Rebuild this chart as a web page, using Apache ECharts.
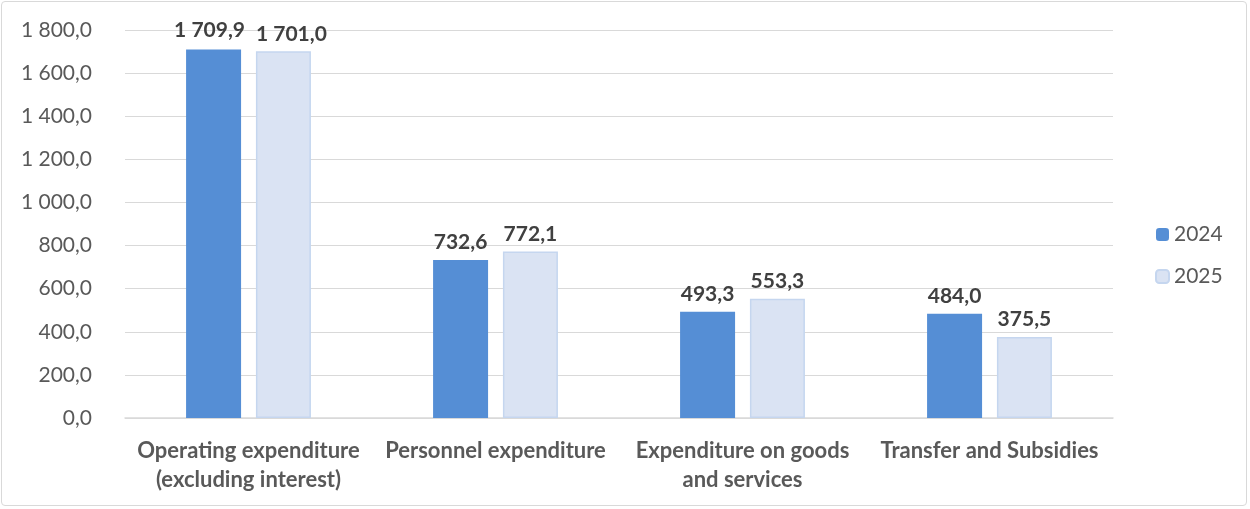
<!DOCTYPE html>
<html>
<head>
<meta charset="utf-8">
<script src="https://cdn.jsdelivr.net/npm/echarts@6/dist/echarts.min.js"></script>
<style>
  html, body { margin: 0; padding: 0; background: #fff; }
  #frame { position: absolute; left: 1px; top: 1px; width: 1246px; height: 505px;
           border: 1px solid #d9d9d9; border-radius: 4px; box-sizing: border-box; }
  #chart { width: 1250px; height: 509px; }
</style>
</head>
<body>
<div id="frame"></div>
<div id="chart"></div>
<script>
// Expenditure by category, 2024 vs 2025
const categories = [
  'Operating expenditure\n(excluding interest)',
  'Personnel expenditure',
  'Expenditure on goods\nand services',
  'Transfer and Subsidies'
];
const values2024 = [1709.9, 732.6, 493.3, 484.0];
const values2025 = [1701.0, 772.1, 553.3, 375.5];
const seriesNames = ['2024', '2025'];

// "1 709,9" style: space thousands separator, comma decimal
function fmt(v) {
  const parts = v.toFixed(1).split('.');
  const intPart = parts[0].replace(/\B(?=(\d{3})+(?!\d))/g, ' ');
  return intPart + ',' + parts[1];
}

const FONT = 'Lato, "Open Sans", sans-serif';
const chart = echarts.init(document.getElementById('chart'), null, { renderer: 'canvas' });

const labelStyle = {
  show: true,
  position: 'top',
  distance: 7,
  fontFamily: FONT,
  fontSize: 21,
  fontWeight: 'bold',
  color: '#404040',
  formatter: p => fmt(p.value)
};

// the two tall labels sit side by side; nudge them apart so they do not collide
const data2024 = values2024.map((v, i) =>
  i === 0 ? { value: v, label: { offset: [-4, -2] } } : v);
const data2025 = values2025.map((v, i) =>
  i === 0 ? { value: v, label: { offset: [8, 0] } } : v);

chart.setOption({
  animation: false,
  grid: { left: 125, right: 137, top: 30, bottom: 91, containLabel: false },
  legend: {
    orient: 'vertical',
    left: 1150,
    top: 219,
    itemWidth: 13,
    itemHeight: 13,
    itemGap: 21,
    textStyle: { fontFamily: FONT, fontSize: 21, color: '#595959' },
    data: seriesNames
  },
  xAxis: {
    type: 'category',
    data: categories,
    axisLine: { lineStyle: { color: '#d9d9d9', width: 1.5 } },
    axisTick: { show: false },
    axisLabel: {
      fontFamily: FONT, fontSize: 22, fontWeight: 'bold', color: '#595959',
      margin: 18, lineHeight: 29, interval: 0
    }
  },
  yAxis: {
    type: 'value',
    min: 0, max: 1800, interval: 200,
    axisLine: { show: false },
    axisTick: { show: false },
    splitLine: { lineStyle: { color: '#d9d9d9', width: 1 } },
    axisLabel: {
      fontFamily: FONT, fontSize: 21, color: '#595959', margin: 33,
      formatter: v => fmt(v)
    }
  },
  series: [
    {
      name: seriesNames[0], type: 'bar', data: data2024,
      barWidth: 55, barGap: '27%',
      itemStyle: { color: '#558ed5' },
      label: labelStyle
    },
    {
      name: seriesNames[1], type: 'bar', data: data2025,
      barWidth: 55,
      itemStyle: { color: '#dae3f3', borderColor: '#c5d6ef', borderWidth: 1.5 },
      label: labelStyle
    }
  ]
});
</script>
</body>
</html>
